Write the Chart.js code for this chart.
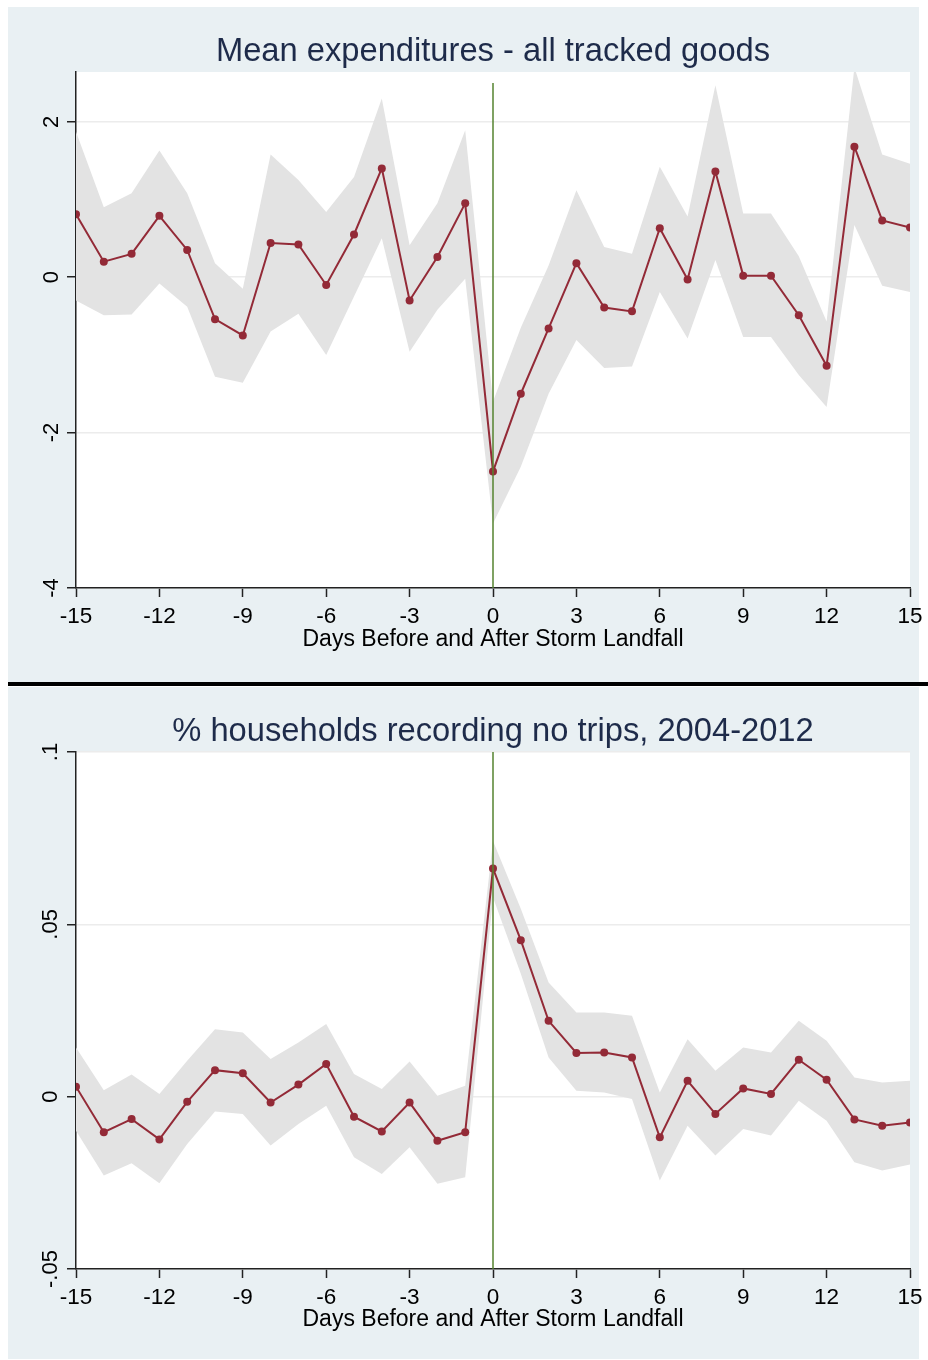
<!DOCTYPE html>
<html>
<head>
<meta charset="utf-8">
<script src="https://cdn.jsdelivr.net/npm/chart.js@4/dist/chart.umd.min.js"></script>
<style>
  html, body { margin: 0; padding: 0; background: #fff; }
  body { position: relative; width: 928px; height: 1360px; overflow: hidden; }
  .panel { position: absolute; left: 8px; width: 911px; background: #e9f0f3; }
  #panelTop { top: 7px; height: 676px; }
  #panelBottom { top: 687px; height: 672px; }
  #divider { position: absolute; left: 8px; top: 682px; width: 920px; height: 4px; background: #000; }
  canvas { position: absolute; left: 8px; display: block; }
  #expChart { top: 7px; }
  #tripsChart { top: 687px; }
</style>
</head>
<body>
<div class="panel" id="panelTop"></div>
<div class="panel" id="panelBottom"></div>
<div id="divider"></div>
<canvas id="expChart" width="920" height="676"></canvas>
<canvas id="tripsChart" width="920" height="672"></canvas>

<script>
// Days relative to landfall
const days = [-15, -14, -13, -12, -11, -10, -9, -8, -7, -6, -5, -4, -3, -2, -1,
              0, 1, 2, 3, 4, 5, 6, 7, 8, 9, 10, 11, 12, 13, 14, 15];
const dayTicks = [-15, -12, -9, -6, -3, 0, 3, 6, 9, 12, 15];

// Mean expenditures - all tracked goods
const expMean = [0.81, 0.20, 0.30, 0.79, 0.35, -0.54, -0.75, 0.44, 0.42, -0.10, 0.55, 1.40, -0.30, 0.26, 0.95,
                 -2.50, -1.50, -0.66, 0.18, -0.39, -0.44, 0.63, -0.03, 1.36, 0.02, 0.02, -0.49, -1.14, 1.68, 0.73, 0.64];
const expUpper = [1.87, 0.90, 1.08, 1.63, 1.08, 0.18, -0.15, 1.58, 1.25, 0.84, 1.29, 2.30, 0.41, 0.95, 1.89,
                  -1.60, -0.65, 0.15, 1.12, 0.39, 0.30, 1.42, 0.78, 2.47, 0.82, 0.82, 0.27, -0.57, 2.70, 1.58, 1.46];
const expLower = [-0.30, -0.49, -0.48, -0.08, -0.38, -1.28, -1.36, -0.70, -0.47, -1.00, -0.25, 0.50, -0.96, -0.42, -0.02,
                  -3.17, -2.44, -1.50, -0.81, -1.17, -1.15, -0.19, -0.79, 0.22, -0.77, -0.77, -1.26, -1.67, 0.67, -0.11, -0.19];
const expTicks = [-4, -2, 0, 2];
const expTickLabels = ['-4', '-2', '0', '2'];

// Share of households recording no trips
const tripsMean = [0.0029, -0.0103, -0.0065, -0.0124, -0.0015, 0.0077, 0.0068, -0.0017, 0.0035, 0.0095, -0.0058, -0.0101, -0.0017, -0.0128, -0.0103,
                   0.0662, 0.0454, 0.0220, 0.0127, 0.0128, 0.0114, -0.0118, 0.0046, -0.0050, 0.0024, 0.0008, 0.0107, 0.0049, -0.0066, -0.0084, -0.0075];
const tripsUpper = [0.0143, 0.0019, 0.0064, 0.0008, 0.0104, 0.0196, 0.0186, 0.0109, 0.0157, 0.0211, 0.0066, 0.0022, 0.0102, 0.0003, 0.0032,
                    0.0742, 0.0545, 0.0331, 0.0244, 0.0244, 0.0235, 0.0012, 0.0167, 0.0075, 0.0143, 0.0128, 0.0220, 0.0162, 0.0056, 0.0041, 0.0046];
const tripsLower = [-0.0099, -0.0229, -0.0193, -0.0251, -0.0137, -0.0043, -0.0050, -0.0142, -0.0079, -0.0026, -0.0176, -0.0224, -0.0147, -0.0253, -0.0234,
                    0.0578, 0.0357, 0.0114, 0.0017, 0.0012, -0.0007, -0.0243, -0.0084, -0.0171, -0.0094, -0.0113, -0.0012, -0.0070, -0.0190, -0.0214, -0.0197];
const tripsTicks = [-0.05, 0, 0.05, 0.1];
const tripsTickLabels = ['-.05', '0', '.05', '.1'];

const lineColor = '#932a37';
const bandColor = '#e3e3e3';
const landfallColor = '#55832f';
const axisColor = '#222';
const fontFamily = '"Liberation Sans", Arial, sans-serif';

// white plot region on the tinted panel
const plotBg = {
    id: 'plotBg',
    beforeDraw(chart) {
        const { ctx, chartArea: a } = chart;
        ctx.save();
        ctx.fillStyle = '#fff';
        ctx.fillRect(a.left, a.top, a.right - a.left, a.bottom - a.top);
        ctx.restore();
    }
};

function points(values) {
    return days.map((d, i) => ({ x: d, y: values[i] }));
}

function makeChart(canvasId, opts) {
    const ctx = document.getElementById(canvasId).getContext('2d');
    return new Chart(ctx, {
        type: 'line',
        data: {
            datasets: [
                {
                    // landfall marker
                    data: [{ x: 0, y: opts.yMin }, { x: 0, y: opts.lineTop }],
                    borderColor: landfallColor,
                    borderWidth: 1.5,
                    pointRadius: 0,
                    fill: false
                },
                {
                    data: points(opts.mean),
                    borderColor: lineColor,
                    borderWidth: 2,
                    pointRadius: 4,
                    pointBorderWidth: 0,
                    pointBackgroundColor: lineColor,
                    tension: 0,
                    fill: false
                },
                {
                    data: points(opts.upper),
                    borderWidth: 0,
                    pointRadius: 0,
                    backgroundColor: bandColor,
                    fill: '+1'
                },
                {
                    data: points(opts.lower),
                    borderWidth: 0,
                    pointRadius: 0,
                    fill: false
                }
            ]
        },
        options: {
            responsive: false,
            animation: false,
            devicePixelRatio: 1,
            layout: { padding: { left: 0, right: 18, top: 0, bottom: 0 } },
            plugins: {
                legend: { display: false },
                tooltip: { enabled: false },
                title: {
                    display: true,
                    text: opts.title,
                    color: '#1e2b4a',
                    fullSize: false,
                    font: { family: fontFamily, size: 32.7, weight: 'normal', lineHeight: 1.2 },
                    padding: { top: 25.5, bottom: 0.3 }
                }
            },
            scales: {
                x: {
                    type: 'linear',
                    min: -15,
                    max: 15,
                    afterFit: s => {
                        s.height = opts.xHeight;
                        s.paddingLeft = 0;
                        s.paddingRight = 0;
                    },
                    afterBuildTicks: s => { s.ticks = dayTicks.map(v => ({ value: v })); },
                    grid: { drawOnChartArea: false, tickColor: axisColor, tickLength: 9, tickWidth: 1.5 },
                    border: { color: axisColor, width: 1.5 },
                    ticks: {
                        color: '#000',
                        padding: 6,
                        maxRotation: 0,
                        autoSkip: false,
                        font: { family: fontFamily, size: 22.5 },
                        callback: v => String(v)
                    },
                    title: {
                        display: true,
                        text: 'Days Before and After Storm Landfall',
                        color: '#000',
                        font: { family: fontFamily, size: 23 },
                        padding: { top: 0, bottom: opts.xTitlePad }
                    }
                },
                y: {
                    type: 'linear',
                    min: opts.yMin,
                    max: opts.yMax,
                    afterFit: s => {
                        s.width = 68;
                        s.paddingTop = 0;
                        s.paddingBottom = 0;
                    },
                    afterBuildTicks: s => { s.ticks = opts.ticks.map(v => ({ value: v })); },
                    grid: { color: '#ececec', lineWidth: 1.5, tickColor: axisColor, tickLength: 9, tickWidth: 1.5 },
                    border: { color: axisColor, width: 1.5 },
                    ticks: {
                        color: '#000',
                        minRotation: 90,
                        maxRotation: 90,
                        crossAlign: 'center',
                        padding: opts.yPad,
                        autoSkip: false,
                        font: { family: fontFamily, size: 22 },
                        callback: (v, i) => opts.tickLabels[i]
                    }
                }
            }
        },
        plugins: [plotBg]
    });
}

makeChart('expChart', {
    title: 'Mean expenditures - all tracked goods',
    mean: expMean, upper: expUpper, lower: expLower,
    ticks: expTicks, tickLabels: expTickLabels,
    yMin: -4, yMax: 2.64, lineTop: 2.5,
    xHeight: 95, xTitlePad: 30, yPad: 5
});

makeChart('tripsChart', {
    title: '% households recording no trips, 2004-2012',
    mean: tripsMean, upper: tripsUpper, lower: tripsLower,
    ticks: tripsTicks, tickLabels: tripsTickLabels,
    yMin: -0.05, yMax: 0.1, lineTop: 0.1,
    xHeight: 90, xTitlePad: 26, yPad: -3
});
</script>
</body>
</html>
